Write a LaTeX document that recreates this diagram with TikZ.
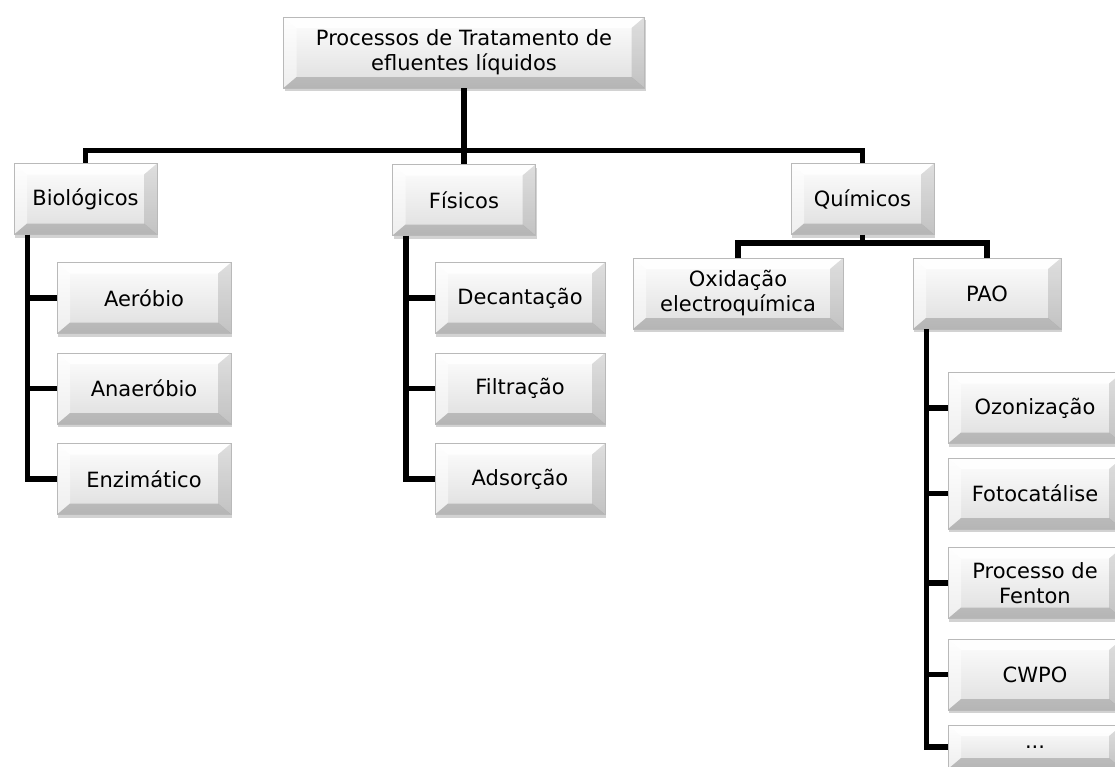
\documentclass[tikz,border=0pt]{standalone}
\usepackage{fontspec}
\setmainfont{DejaVu Sans}
\usetikzlibrary{shadows}

\begin{document}
\begin{tikzpicture}[
    x=1pt, y=-1pt,
    box/.style={rectangle, draw=gray!55, line width=0.7pt,
        top color=gray!1, bottom color=gray!26,
        minimum height=71pt, inner sep=2pt, align=center,
        font=\fontsize{21}{25}\selectfont,
        drop shadow={shadow xshift=1pt, shadow yshift=-3pt, opacity=0.25, fill=black!70},
        path picture={
            \fill[white, opacity=0.85] (path picture bounding box.north west) -- (path picture bounding box.north east)
                -- ([shift={(-13pt,-11pt)}]path picture bounding box.north east) -- ([shift={(13pt,-11pt)}]path picture bounding box.north west) -- cycle;
            \fill[white, opacity=0.5] (path picture bounding box.north west) -- (path picture bounding box.south west)
                -- ([shift={(13pt,11pt)}]path picture bounding box.south west) -- ([shift={(13pt,-11pt)}]path picture bounding box.north west) -- cycle;
            \fill[black, opacity=0.12] (path picture bounding box.north east) -- (path picture bounding box.south east)
                -- ([shift={(-13pt,11pt)}]path picture bounding box.south east) -- ([shift={(-13pt,-11pt)}]path picture bounding box.north east) -- cycle;
            \fill[black, opacity=0.18] (path picture bounding box.south west) -- (path picture bounding box.south east)
                -- ([shift={(-13pt,11pt)}]path picture bounding box.south east) -- ([shift={(13pt,11pt)}]path picture bounding box.south west) -- cycle;
        }},
    topbox/.style={box, minimum width=143pt},
    subbox/.style={box, minimum width=174pt},
    link/.style={line width=5.5pt, black}
]
\useasboundingbox (0,0) rectangle (1115,766);
\clip (0,0) rectangle (1115,766);

% Nodes
\node[box, minimum width=361pt] (root) at (464,52.5) {Processos de Tratamento de\\efluentes líquidos};

\node[topbox] (bio) at (85.5,199) {Biológicos};
\node[topbox] (fis) at (464,200) {Físicos};
\node[topbox] (qui) at (862.5,199) {Químicos};

\node[subbox] (aer) at (144,298) {Aeróbio};
\node[subbox] (ana) at (144,388.5) {Anaeróbio};
\node[subbox] (enz) at (144,479) {Enzimático};

\node[subbox, minimum width=170pt] (dec) at (520,298) {Decantação};
\node[subbox, minimum width=170pt] (fil) at (520,388.5) {Filtração};
\node[subbox, minimum width=170pt] (ads) at (520,479) {Adsorção};

\node[box, minimum width=210pt] (oxi) at (738,293.5) {Oxidação\\electroquímica};
\node[box, minimum width=148pt] (pao) at (987,293.5) {PAO};

\node[subbox] (ozo) at (1035,408) {Ozonização};
\node[subbox] (foto) at (1035,493.5) {Fotocatálise};
\node[subbox] (fen) at (1035,583) {Processo de\\Fenton};
\node[subbox] (cwpo) at (1035,674.5) {CWPO};
\node[subbox, minimum height=44pt] (etc) at (1035,747) {...};

% Connectors
\draw[link] (root.south) -- ++(0,62) -| (bio.north);
\draw[link] (root.south) -- (fis.north);
\draw[link] (root.south) -- ++(0,62) -| (qui.north);

\draw[link] ([xshift=14pt]bio.south west) |- (aer.west);
\draw[link] ([xshift=14pt]bio.south west) |- (ana.west);
\draw[link] ([xshift=14pt]bio.south west) |- (enz.west);

\draw[link] ([xshift=14pt]fis.south west) |- (dec.west);
\draw[link] ([xshift=14pt]fis.south west) |- (fil.west);
\draw[link] ([xshift=14pt]fis.south west) |- (ads.west);

\draw[link] (qui.south) -- ++(0,8) -| (oxi.north);
\draw[link] (qui.south) -- ++(0,8) -| (pao.north);

\draw[link] ([xshift=14pt]pao.south west) |- (ozo.west);
\draw[link] ([xshift=14pt]pao.south west) |- (foto.west);
\draw[link] ([xshift=14pt]pao.south west) |- (fen.west);
\draw[link] ([xshift=14pt]pao.south west) |- (cwpo.west);
\draw[link] ([xshift=14pt]pao.south west) |- (etc.west);

\end{tikzpicture}
\end{document}
